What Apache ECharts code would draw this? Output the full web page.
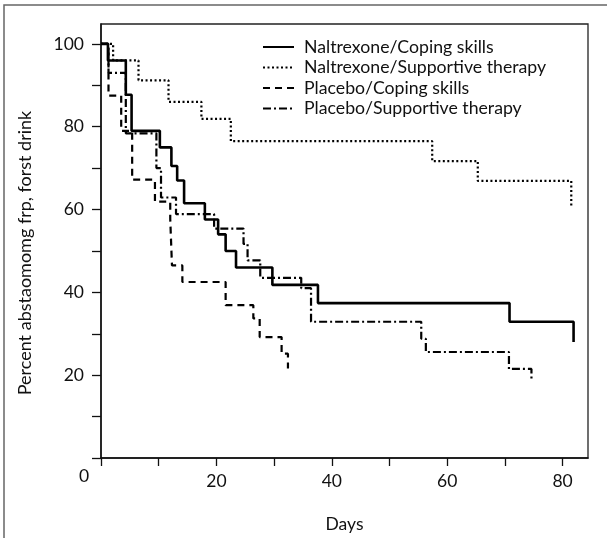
<!DOCTYPE html>
<html>
<head>
<meta charset="utf-8">
<script src="https://cdn.jsdelivr.net/npm/echarts@6/dist/echarts.min.js"></script>
<style>
html,body{margin:0;padding:0;background:#fff;}
#c{width:607px;height:538px;}
</style>
</head>
<body>
<div id="c"></div>
<script>
// Kaplan-Meier style step data: [day, percent]
const seriesNames = ['Naltrexone/Coping skills','Naltrexone/Supportive therapy','Placebo/Coping skills','Placebo/Supportive therapy'];
const naltrexoneCoping = [[0,100],[1.2,96],[4.3,87.7],[5.3,79],[10.2,75],[12.2,70.5],[13.2,67],[14.4,61.5],[18.0,57.6],[20.3,54],[21.6,50],[23.4,46],[29.7,41.8],[37.6,37.4],[70.8,32.9],[81.9,28]];
const naltrexoneSupportive = [[0,100],[2.1,96],[6.5,91.2],[11.7,86],[17.4,81.9],[22.5,76.5],[57.4,71.7],[65.3,66.9],[81.5,60.9]];
const placeboCoping = [[0,100],[1.3,87.5],[3.5,79],[5.4,67.2],[9.35,61.9],[12.0,57.7],[12.3,46.5],[14.1,42.5],[21.6,36.9],[26.4,33.7],[27.5,29.2],[31.3,25.2],[32.4,21.6]];
const placeboSupportive = [[0,100],[1.3,93],[4.3,78.4],[9.6,70],[10.4,62.9],[13.0,58.9],[19.6,55.4],[24.7,51.7],[25.4,47.7],[27.6,43.5],[34.7,41],[36.4,32.9],[55.5,28.8],[56.3,25.6],[70.7,21.5],[74.6,19.2]];
const xTickValues = [0,10,20,30,40,50,60,70,80];
const xLabelValues = [20,40,60,80];
const yTickValues = [0,10,20,30,40,50,60,70,80,90,100];
const yLabelValues = [20,40,60,80,100];
const xAxisTitle = 'Days';
const yAxisTitle = 'Percent abstaomomg frp, forst drink';
const originLabel = '0';

const FONT = 'Lato';
const chart = echarts.init(document.getElementById('c'));
const styles = [
  {type:'solid', width:2.6},
  {type:[2,2.5], width:2.2},
  {type:[7,5], width:2.2},
  {type:[8,3,2,3], width:2.2}
];
const datasets = [naltrexoneCoping, naltrexoneSupportive, placeboCoping, placeboSupportive];
chart.setOption({
  animation:false,
  backgroundColor:'#fff',
  textStyle:{fontFamily:FONT},
  grid:{left:101, right:19, top:24, bottom:78, show:true, borderColor:'#222', borderWidth:1.3, backgroundColor:'transparent'},
  legend:{
    orient:'vertical', left:257, top:33, itemWidth:31, itemHeight:14, itemGap:2.5,
    itemStyle:{opacity:0},
    textStyle:{fontSize:17.7, color:'#111', fontFamily:FONT, lineHeight:18, padding:[0,0,0,5]},
    data:seriesNames
  },
  xAxis:{
    type:'value', min:0, max:84.4, interval:10,
    name:xAxisTitle, nameLocation:'middle', nameGap:57,
    nameTextStyle:{fontSize:17.5, color:'#111', fontFamily:FONT},
    axisLine:{lineStyle:{color:'#111', width:1.5}},
    axisTick:{length:8, lineStyle:{color:'#111', width:1.3}, customValues:xTickValues},
    axisLabel:{fontSize:17.5, color:'#111', margin:14, customValues:xLabelValues},
    splitLine:{show:false}
  },
  yAxis:{
    type:'value', min:0, max:104.8, interval:10,
    name:yAxisTitle, nameLocation:'middle', nameGap:67, nameRotate:90,
    nameTextStyle:{fontSize:18, color:'#111', fontFamily:FONT, padding:[0,24,0,0]},
    axisLine:{lineStyle:{color:'#111', width:1.5}},
    axisTick:{length:9, lineStyle:{color:'#111', width:1.3}, customValues:yTickValues},
    axisLabel:{fontSize:17.5, color:'#111', margin:17, customValues:yLabelValues},
    splitLine:{show:false}
  },
  series: seriesNames.map((n,i)=>({
    name:n, type:'line', step:'end', symbol:'none', data:datasets[i],
    lineStyle:{color:'#000', type:styles[i].type, width:styles[i].width},
    itemStyle:{color:'#000'}
  }))
});
const o = chart.convertToPixel({gridIndex:0},[0,0]);
chart.setOption({
  graphic:[
    {type:'rect', shape:{x:4,y:5,width:800,height:800}, style:{fill:'none', stroke:'#666', lineWidth:1.5}, z:-1, silent:true},
    {type:'text', x:o[0]-17, y:o[1]+18, style:{text:originLabel, fontSize:17.5, fontFamily:FONT, fill:'#111', align:'center', verticalAlign:'middle'}}
  ]
});
</script>
</body>
</html>
